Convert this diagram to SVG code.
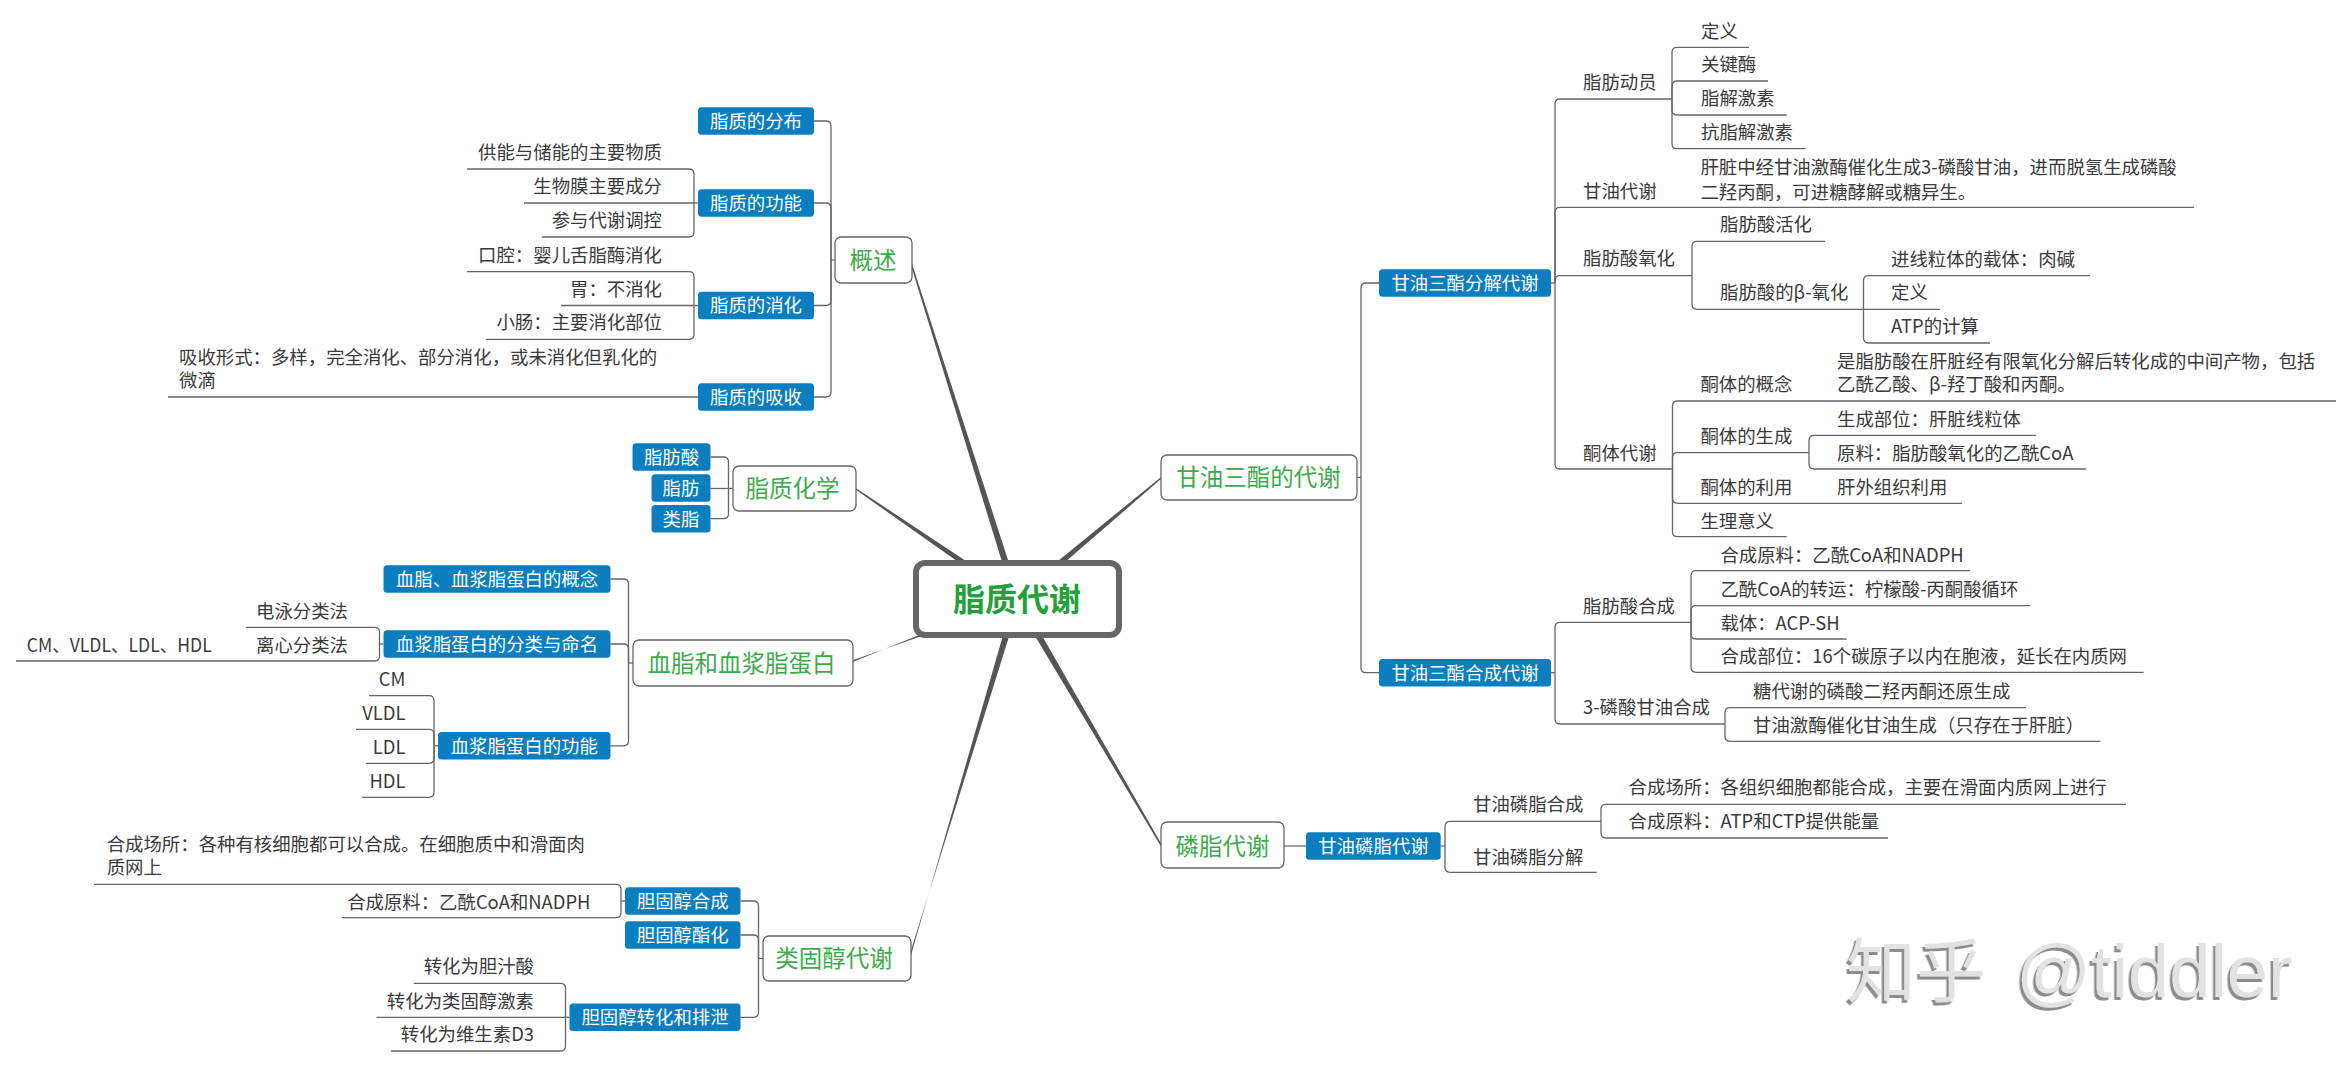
<svg xmlns="http://www.w3.org/2000/svg" width="2352" height="1067" viewBox="0 0 2352 1067">
<defs>
<style>
.c{fill:none;stroke:#666;stroke-width:1.3}
.br{fill:#555}
text{font-family:"Noto Sans CJK SC","Noto Sans",sans-serif}
.t{font-size:18.4px;fill:#3a3a3a}
.e{text-anchor:end}
.bx{fill:#0b7ec0}
.bt{font-size:18.4px;fill:#fff;text-anchor:middle}
.mb{fill:#fff;stroke:#666;stroke-width:1.3}
.mt{font-size:23.5px;fill:#3dab4a;text-anchor:middle}
</style>
<filter id="sh" x="-5%" y="-20%" width="110%" height="140%">
<feDropShadow dx="-2.5" dy="3" stdDeviation="0.6" flood-color="#8c8c8c" flood-opacity="1"/>
</filter>
</defs>
<rect width="2352" height="1067" fill="#fff"/>

<g id="connectors">
<polygon class="br" points="910.3,263.2 911.7,262.8 1020.3,597.9 1013.7,600.1"/>
<polygon class="br" points="855.6,489.6 856.4,488.4 1019.0,596.1 1015.0,601.9"/>
<polygon class="br" points="853.3,661.7 852.7,660.3 1018.2,602.3 1015.8,595.7"/>
<polygon class="br" points="910.7,956.2 909.3,955.8 1020.4,600.0 1013.7,598.0"/>
<polygon class="br" points="1160.5,477.4 1161.5,478.6 1019.3,601.7 1014.8,596.3"/>
<polygon class="br" points="1161.7,844.6 1160.4,845.4 1014.0,600.8 1020.0,597.2"/>

<path class="c" d="M835 260H831"/>
<path class="c" d="M831 260V126Q831 121 826 121H814"/>
<path class="c" d="M831 260V208Q831 203 826 203H814"/>
<path class="c" d="M831 260V300.5Q831 305.5 826 305.5H814"/>
<path class="c" d="M831 260V392Q831 397 826 397H814"/>
<path class="c" d="M698 203H694"/>
<path class="c" d="M694 203V174Q694 169 689 169H467"/>
<path class="c" d="M694 203H524"/>
<path class="c" d="M694 203V232Q694 237 689 237H542"/>
<path class="c" d="M698 305.5H694"/>
<path class="c" d="M694 305.5V276.7Q694 271.7 689 271.7H467"/>
<path class="c" d="M694 305.5H561"/>
<path class="c" d="M694 305.5V334.3Q694 339.3 689 339.3H486"/>
<path class="c" d="M698 397H168"/>

<path class="c" d="M733 488.5H728.5"/>
<path class="c" d="M728.5 488.5V462Q728.5 457 723.5 457H710.5"/>
<path class="c" d="M728.5 488.5H710.5"/>
<path class="c" d="M728.5 488.5V513.7Q728.5 518.7 723.5 518.7H710.5"/>

<path class="c" d="M633 663H628.5"/>
<path class="c" d="M628.5 663V584Q628.5 579 623.5 579H610.5"/>
<path class="c" d="M628.5 663V649Q628.5 644 623.5 644H610.5"/>
<path class="c" d="M628.5 663V740.8Q628.5 745.8 623.5 745.8H610.5"/>
<path class="c" d="M383.5 644H379.5"/>
<path class="c" d="M379.5 644V632.3Q379.5 627.3 374.5 627.3H246"/>
<path class="c" d="M379.5 644V656Q379.5 661 374.5 661H16"/>
<path class="c" d="M438 745.8H434"/>
<path class="c" d="M434 745.8V700.7Q434 695.7 429 695.7H369"/>
<path class="c" d="M434 745.8V734.3Q434 729.3 429 729.3H356"/>
<path class="c" d="M434 745.8V758.3Q434 763.3 429 763.3H366"/>
<path class="c" d="M434 745.8V792.3Q434 797.3 429 797.3H362"/>

<path class="c" d="M763 958.5H758.5"/>
<path class="c" d="M758.5 958.5V906Q758.5 901 753.5 901H740.5"/>
<path class="c" d="M758.5 958.5V940Q758.5 935 753.5 935H740.5"/>
<path class="c" d="M758.5 958.5V1012.3Q758.5 1017.3 753.5 1017.3H740.5"/>
<path class="c" d="M625 901H621"/>
<path class="c" d="M621 901V889.3Q621 884.3 616 884.3H94"/>
<path class="c" d="M621 901V912.7Q621 917.7 616 917.7H341.7"/>
<path class="c" d="M569.5 1017.3H565.5"/>
<path class="c" d="M565.5 1017.3V988.3Q565.5 983.3 560.5 983.3H413.7"/>
<path class="c" d="M565.5 1017.3H376.5"/>
<path class="c" d="M565.5 1017.3V1046Q565.5 1051 560.5 1051H391"/>

<path class="c" d="M1357 477.5H1361"/>
<path class="c" d="M1361 477.5V288Q1361 283 1366 283H1379"/>
<path class="c" d="M1361 477.5V667.7Q1361 672.7 1366 672.7H1379"/>
<path class="c" d="M1551 283H1555"/>
<path class="c" d="M1555 283V104Q1555 99 1560 99H1672"/>
<path class="c" d="M1555 283V212.3Q1555 207.3 1560 207.3H2194"/>
<path class="c" d="M1555 283V280.7Q1555 275.7 1560 275.7H1692"/>
<path class="c" d="M1555 283V464Q1555 469 1560 469H1672.5"/>
<path class="c" d="M1672 99V52.3Q1672 47.3 1677 47.3H1749"/>
<path class="c" d="M1672 99V86Q1672 81 1677 81H1768"/>
<path class="c" d="M1672 99V110Q1672 115 1677 115H1786.7"/>
<path class="c" d="M1672 99V143.7Q1672 148.7 1677 148.7H1805.7"/>
<path class="c" d="M1692 275.7V246.3Q1692 241.3 1697 241.3H1825"/>
<path class="c" d="M1692 275.7V304.3Q1692 309.3 1697 309.3H1863.5"/>
<path class="c" d="M1863.5 309.3V280.7Q1863.5 275.7 1868.5 275.7H2090"/>
<path class="c" d="M1863.5 309.3H1940"/>
<path class="c" d="M1863.5 309.3V338Q1863.5 343 1868.5 343H1990"/>
<path class="c" d="M1672.5 469V406Q1672.5 401 1677.5 401H2336"/>
<path class="c" d="M1672.5 469V457.7Q1672.5 452.7 1677.5 452.7H1809"/>
<path class="c" d="M1672.5 469V498.3Q1672.5 503.3 1677.5 503.3H1962"/>
<path class="c" d="M1672.5 469V531.7Q1672.5 536.7 1677.5 536.7H1786.7"/>
<path class="c" d="M1809 452.7V440.3Q1809 435.3 1814 435.3H2036"/>
<path class="c" d="M1809 452.7V464Q1809 469 1814 469H2086"/>
<path class="c" d="M1551 672.7H1555"/>
<path class="c" d="M1555 672.7V627.3Q1555 622.3 1560 622.3H1691"/>
<path class="c" d="M1555 672.7V719Q1555 724 1560 724H1725"/>
<path class="c" d="M1691 622.3V575.7Q1691 570.7 1696 570.7H1970"/>
<path class="c" d="M1691 622.3V610.7Q1691 605.7 1696 605.7H2030"/>
<path class="c" d="M1691 622.3V634Q1691 639 1696 639H1846.6"/>
<path class="c" d="M1691 622.3V667.3Q1691 672.3 1696 672.3H2143.6"/>
<path class="c" d="M1725 724V712.7Q1725 707.7 1730 707.7H2026"/>
<path class="c" d="M1725 724V736.3Q1725 741.3 1730 741.3H2100.5"/>

<path class="c" d="M1284 846H1306"/>
<path class="c" d="M1440.7 846H1445"/>
<path class="c" d="M1445 846V826.3Q1445 821.3 1450 821.3H1601"/>
<path class="c" d="M1445 846V867.3Q1445 872.3 1450 872.3H1596.7"/>
<path class="c" d="M1601 821.3V809.3Q1601 804.3 1606 804.3H2126"/>
<path class="c" d="M1601 821.3V833Q1601 838 1606 838H1888"/>
</g>

<g id="n-center">
<rect x="916" y="563" width="203" height="72" rx="9" fill="#fff" stroke="#666" stroke-width="6"/>
<text x="1017" y="611" font-size="32" font-weight="bold" fill="#22a13a" text-anchor="middle">脂质代谢</text>
</g>

<g id="n-gaishu"><rect class="mb" x="835" y="237" width="77" height="46" rx="6"/><text class="mt" x="873" y="268.5">概述</text></g>
<g id="n-fenbu"><rect class="bx" x="698" y="107.25" width="116" height="27.5" rx="3.5"/><text class="bt" x="756" y="127.8">脂质的分布</text></g>
<g id="n-gongneng"><rect class="bx" x="698" y="189.25" width="116" height="27.5" rx="3.5"/><text class="bt" x="756" y="209.8">脂质的功能</text></g>
<g id="n-xiaohua"><rect class="bx" x="698" y="291.75" width="116" height="27.5" rx="3.5"/><text class="bt" x="756" y="312.3">脂质的消化</text></g>
<g id="n-xishou"><rect class="bx" x="698" y="383.25" width="116" height="27.5" rx="3.5"/><text class="bt" x="756" y="403.8">脂质的吸收</text></g>
<g id="l-gn1"><text class="t e" x="662" y="159">供能与储能的主要物质</text></g>
<g id="l-gn2"><text class="t e" x="662" y="193">生物膜主要成分</text></g>
<g id="l-gn3"><text class="t e" x="662" y="227">参与代谢调控</text></g>
<g id="l-xh1"><text class="t e" x="662" y="261.7">口腔：婴儿舌脂酶消化</text></g>
<g id="l-xh2"><text class="t e" x="662" y="295.5">胃：不消化</text></g>
<g id="l-xh3"><text class="t e" x="662" y="329.3">小肠：主要消化部位</text></g>
<g id="l-xs1"><text class="t" x="179" y="363.7">吸收形式：多样，完全消化、部分消化，或未消化但乳化的<tspan x="179" y="387">微滴</tspan></text></g>

<g id="n-huaxue"><rect class="mb" x="733" y="466" width="123" height="45" rx="6"/><text class="mt" x="792.5" y="497">脂质化学</text></g>
<g id="n-zfs"><rect class="bx" x="632.5" y="443.25" width="78" height="27.5" rx="3.5"/><text class="bt" x="671.5" y="463.8">脂肪酸</text></g>
<g id="n-zf"><rect class="bx" x="651.5" y="474.25" width="59" height="27.5" rx="3.5"/><text class="bt" x="681" y="494.8">脂肪</text></g>
<g id="n-lz"><rect class="bx" x="651.5" y="504.95" width="59" height="27.5" rx="3.5"/><text class="bt" x="681" y="525.5">类脂</text></g>

<g id="n-xuezhi"><rect class="mb" x="633" y="640" width="220" height="46" rx="6"/><text class="mt" x="741.5" y="671.5">血脂和血浆脂蛋白</text></g>
<g id="n-gainian"><rect class="bx" x="383.5" y="565.25" width="227" height="27.5" rx="3.5"/><text class="bt" x="497" y="585.8">血脂、血浆脂蛋白的概念</text></g>
<g id="n-fenlei"><rect class="bx" x="383.5" y="630.25" width="227" height="27.5" rx="3.5"/><text class="bt" x="497" y="650.8">血浆脂蛋白的分类与命名</text></g>
<g id="n-gn"><rect class="bx" x="438" y="732.05" width="172.5" height="27.5" rx="3.5"/><text class="bt" x="524.25" y="752.6">血浆脂蛋白的功能</text></g>
<g id="l-dy"><text class="t e" x="348" y="618">电泳分类法</text></g>
<g id="l-lx"><text class="t e" x="348" y="652">离心分类法</text></g>
<g id="l-lx1"><text class="t" x="26.7" y="652" textLength="185" lengthAdjust="spacingAndGlyphs">CM、VLDL、LDL、HDL</text></g>
<g id="l-cm"><text class="t e" x="405.5" y="686">CM</text></g>
<g id="l-vldl"><text class="t e" x="405.5" y="720">VLDL</text></g>
<g id="l-ldl"><text class="t e" x="405.5" y="754">LDL</text></g>
<g id="l-hdl"><text class="t e" x="405.5" y="788">HDL</text></g>

<g id="n-lgc"><rect class="mb" x="763" y="936" width="148" height="45" rx="6"/><text class="mt" x="834" y="967">类固醇代谢</text></g>
<g id="n-dgchc"><rect class="bx" x="625" y="887.25" width="115.5" height="27.5" rx="3.5"/><text class="bt" x="682.75" y="907.8">胆固醇合成</text></g>
<g id="n-dgczh"><rect class="bx" x="625" y="921.25" width="115.5" height="27.5" rx="3.5"/><text class="bt" x="682.75" y="941.8">胆固醇酯化</text></g>
<g id="n-dgczhpx"><rect class="bx" x="569.5" y="1003.55" width="171" height="27.5" rx="3.5"/><text class="bt" x="655" y="1024.1">胆固醇转化和排泄</text></g>
<g id="l-hccs"><text class="t" x="106.7" y="851">合成场所：各种有核细胞都可以合成。在细胞质中和滑面肉<tspan x="106.7" y="874.3">质网上</tspan></text></g>
<g id="l-hcyl"><text class="t e" x="590.5" y="908.7">合成原料：乙酰CoA和NADPH</text></g>
<g id="l-zh1"><text class="t e" x="534" y="973.3">转化为胆汁酸</text></g>
<g id="l-zh2"><text class="t e" x="534" y="1007.7">转化为类固醇激素</text></g>
<g id="l-zh3"><text class="t e" x="534" y="1041">转化为维生素D3</text></g>

<g id="n-gysz"><rect class="mb" x="1161" y="455" width="196" height="45" rx="6"/><text class="mt" x="1258.5" y="486">甘油三酯的代谢</text></g>
<g id="n-fjdx"><rect class="bx" x="1379" y="269.25" width="172" height="27.5" rx="3.5"/><text class="bt" x="1465" y="289.8">甘油三酯分解代谢</text></g>
<g id="n-hcdx"><rect class="bx" x="1379" y="658.95" width="172" height="27.5" rx="3.5"/><text class="bt" x="1465" y="679.5">甘油三酯合成代谢</text></g>
<g id="l-zfdy"><text class="t" x="1583" y="88.7">脂肪动员</text></g>
<g id="l-dy1"><text class="t" x="1701" y="37.5">定义</text></g>
<g id="l-gjm"><text class="t" x="1701" y="71">关键酶</text></g>
<g id="l-zjjs"><text class="t" x="1701" y="105">脂解激素</text></g>
<g id="l-kzjjs"><text class="t" x="1701" y="138.7">抗脂解激素</text></g>
<g id="l-gydx"><text class="t" x="1583" y="197.7">甘油代谢</text></g>
<g id="l-gydx1"><text class="t" x="1700.4" y="173.7">肝脏中经甘油激酶催化生成3-磷酸甘油，进而脱氢生成磷酸<tspan x="1700.4" y="198.7">二羟丙酮，可进糖酵解或糖异生。</tspan></text></g>
<g id="l-zfsyh"><text class="t" x="1583" y="265.3">脂肪酸氧化</text></g>
<g id="l-zfshh"><text class="t" x="1720" y="231.3">脂肪酸活化</text></g>
<g id="l-beta"><text class="t" x="1720" y="299.3">脂肪酸的β-氧化</text></g>
<g id="l-jxlt"><text class="t" x="1891" y="265.7">进线粒体的载体：肉碱</text></g>
<g id="l-dy2"><text class="t" x="1891" y="299.3">定义</text></g>
<g id="l-atp"><text class="t" x="1891" y="333">ATP的计算</text></g>
<g id="l-ttdx"><text class="t" x="1583" y="460.3">酮体代谢</text></g>
<g id="l-ttgn"><text class="t" x="1700.4" y="391">酮体的概念</text></g>
<g id="l-ttgn1"><text class="t" x="1837" y="368">是脂肪酸在肝脏经有限氧化分解后转化成的中间产物，包括<tspan x="1837" y="391.3">乙酰乙酸、β-羟丁酸和丙酮。</tspan></text></g>
<g id="l-ttsc"><text class="t" x="1700.4" y="443">酮体的生成</text></g>
<g id="l-scbw"><text class="t" x="1837" y="426.3">生成部位：肝脏线粒体</text></g>
<g id="l-yl"><text class="t" x="1837" y="460.3">原料：脂肪酸氧化的乙酰CoA</text></g>
<g id="l-ttly"><text class="t" x="1700.4" y="493.5">酮体的利用</text></g>
<g id="l-gwzz"><text class="t" x="1837" y="493.5">肝外组织利用</text></g>
<g id="l-slyy"><text class="t" x="1700.4" y="527.7">生理意义</text></g>
<g id="l-zfshc"><text class="t" x="1583" y="613">脂肪酸合成</text></g>
<g id="l-hcyl2"><text class="t" x="1720.4" y="561.5">合成原料：乙酰CoA和NADPH</text></g>
<g id="l-zxcoa"><text class="t" x="1720.4" y="596">乙酰CoA的转运：柠檬酸-丙酮酸循环</text></g>
<g id="l-zt"><text class="t" x="1720.4" y="629.7">载体：ACP-SH</text></g>
<g id="l-hcbw"><text class="t" x="1720.4" y="663.3">合成部位：16个碳原子以内在胞液，延长在内质网</text></g>
<g id="l-3lsgy"><text class="t" x="1583" y="714.3">3-磷酸甘油合成</text></g>
<g id="l-tdx"><text class="t" x="1753" y="698">糖代谢的磷酸二羟丙酮还原生成</text></g>
<g id="l-gyjm"><text class="t" x="1753" y="732">甘油激酶催化甘油生成（只存在于肝脏）</text></g>

<g id="n-lzdx"><rect class="mb" x="1161" y="822" width="123" height="46" rx="6"/><text class="mt" x="1222.5" y="854.5">磷脂代谢</text></g>
<g id="n-gylzdx"><rect class="bx" x="1306" y="832.3" width="134.7" height="27.4" rx="3.5"/><text class="bt" x="1373.4" y="852.8">甘油磷脂代谢</text></g>
<g id="l-gylzhc"><text class="t" x="1473" y="811.3">甘油磷脂合成</text></g>
<g id="l-gylzfj"><text class="t" x="1473" y="863.5">甘油磷脂分解</text></g>
<g id="l-hccs2"><text class="t" x="1628.6" y="794.3">合成场所：各组织细胞都能合成，主要在滑面内质网上进行</text></g>
<g id="l-hcyl3"><text class="t" x="1628.6" y="828.3">合成原料：ATP和CTP提供能量</text></g>

<g id="watermark" filter="url(#sh)"><text x="1846" y="997" font-size="70" fill="#e2e2e2">知乎 <tspan x="2016" font-family="'Liberation Sans',sans-serif" font-size="74">@tiddler</tspan></text></g>
</svg>
